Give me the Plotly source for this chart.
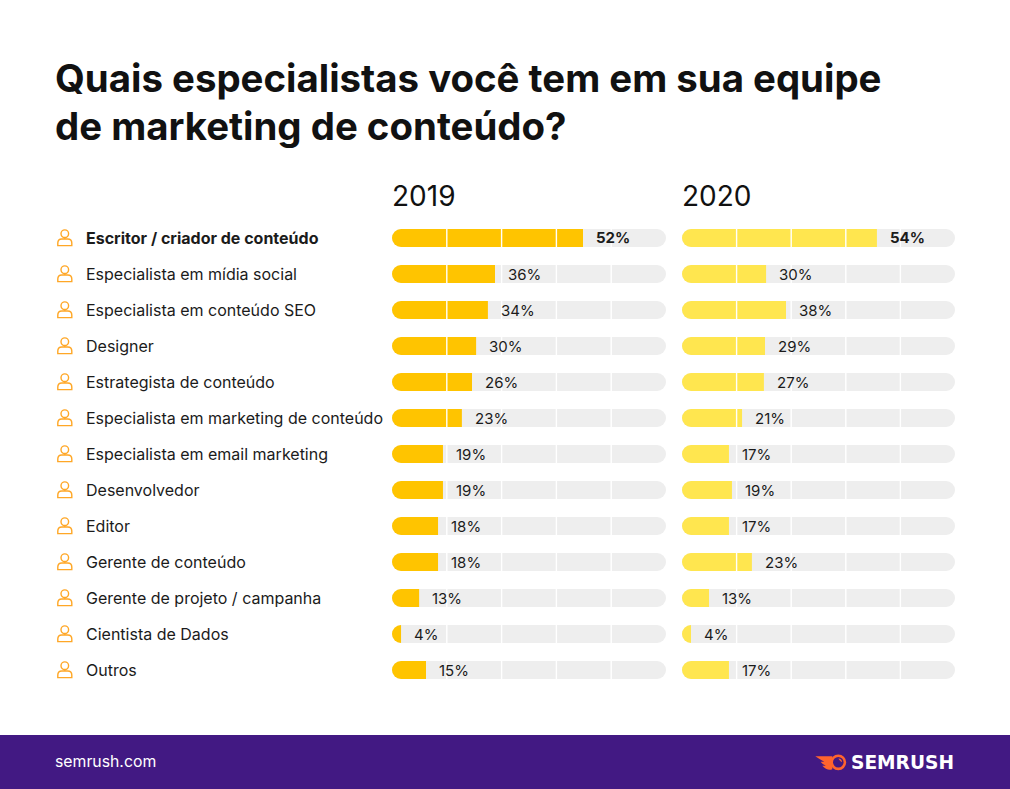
import plotly.graph_objects as go
from plotly.subplots import make_subplots

categories = ['Escritor / criador de conteúdo', 'Especialista em mídia social',
              'Especialista em conteúdo SEO', 'Designer', 'Estrategista de conteúdo',
              'Especialista em marketing de conteúdo', 'Especialista em email marketing',
              'Desenvolvedor', 'Editor', 'Gerente de conteúdo',
              'Gerente de projeto / campanha', 'Cientista de Dados', 'Outros']
# printed labels
labels_2019 = [52, 36, 34, 30, 26, 23, 19, 19, 18, 18, 13, 4, 15]
labels_2020 = [54, 30, 38, 29, 27, 21, 17, 19, 17, 23, 13, 4, 17]
# drawn bar length, share of the grey track (the source bars do not follow the labels)
bars_2019 = [69.7, 37.6, 35.0, 30.7, 29.2, 25.5, 18.6, 18.6, 16.8, 16.8, 9.9, 3.3, 12.4]
bars_2020 = [71.4, 30.8, 38.1, 30.4, 30.0, 22.0, 17.2, 18.3, 17.2, 25.6, 9.9, 3.3, 17.2]
grid_values = [20, 40, 60, 80]
track_max = 100

W, H = 1010, 789
FONT = 'Inter'
INK = '#1b1b1b'
ORANGE = '#FFA726'
TRACK = '#EEEEEE'
EXTRA = 7  # the round right end of a value bar hides under a flat grey piece

fig = make_subplots(rows=1, cols=2, shared_yaxes=True)
series = [(bars_2019, labels_2019, '#FFC400', 1, 'x'), (bars_2020, labels_2020, '#FFE64F', 2, 'x2')]
n = len(categories)

for bars, labels, color, col, xref in series:
    # a bar with a base gets all four corners rounded
    fig.add_trace(go.Bar(y=categories, x=[track_max] * n, base=[0] * n, orientation='h',
                         width=0.5, marker_color=TRACK, marker_line_width=0,
                         hoverinfo='skip', showlegend=False), row=1, col=col)
    fig.add_trace(go.Bar(y=categories, x=[b + EXTRA for b in bars], base=[0] * n,
                         orientation='h', width=0.5, marker_color=color, marker_line_width=0,
                         hoverinfo='skip', showlegend=False), row=1, col=col)
    fig.add_trace(go.Bar(y=categories, x=[EXTRA] * n, base=bars, orientation='h', width=0.5,
                         marker=dict(color=TRACK, line_width=0, cornerradius=0),
                         hoverinfo='skip', showlegend=False), row=1, col=col)
    for i, cat in enumerate(categories):
        fig.add_annotation(x=bars[i], y=cat, xref=xref, yref='y', text=f'{labels[i]}%',
                           xanchor='left', yanchor='middle', xshift=11, showarrow=False,
                           font=dict(family=FONT, size=15, color=INK,
                                     weight=700 if i == 0 else 400))
    for g in grid_values:
        fig.add_shape(type='line', x0=g, x1=g, y0=0, y1=1, xref=xref, yref='y domain',
                      line=dict(color='white', width=1.4), layer='above')


def px(x):
    return x / W


def py(y):
    return 1 - y / H


def circle(cx, cy, r):
    # shape paths take no arcs, so four cubic curves
    k = 0.5523 * r
    return (f'M {cx - r} {cy} C {cx - r} {cy + k} {cx - k} {cy + r} {cx} {cy + r} '
            f'C {cx + k} {cy + r} {cx + r} {cy + k} {cx + r} {cy} '
            f'C {cx + r} {cy - k} {cx + k} {cy - r} {cx} {cy - r} '
            f'C {cx - k} {cy - r} {cx - r} {cy - k} {cx - r} {cy} Z')


# person outline, pixels from the row centre, y up
icon_path = (circle(0, 4.3, 3.8) + ' M -7 -7.6 L 7 -7.6 L 7 -5.1 Q 7 -1 3 -1 L -3 -1 '
             'Q -7 -1 -7 -5.1 Z')

for i, cat in enumerate(categories):
    fig.add_shape(type='path', path=icon_path, xref='paper', yref='y',
                  xsizemode='pixel', ysizemode='pixel', xanchor=px(64.8), yanchor=cat,
                  line=dict(color=ORANGE, width=1.4), fillcolor='rgba(0,0,0,0)')
    fig.add_annotation(x=px(84), y=cat, xref='paper', yref='y', text=cat, xanchor='left',
                       yanchor='middle', showarrow=False,
                       font=dict(family=FONT, size=16, color=INK,
                                 weight=700 if i == 0 else 400))

# footer band
fig.add_shape(type='rect', xref='paper', yref='paper', x0=0, x1=1, y0=0, y1=py(735),
              fillcolor='#421983', line_width=0, layer='below')
fig.add_annotation(x=px(53), y=py(761), xref='paper', yref='paper', text='semrush.com',
                   xanchor='left', yanchor='middle', showarrow=False,
                   font=dict(family=FONT, size=15.8, color='white'))
fig.add_annotation(x=px(849), y=py(762), xref='paper', yref='paper', text='SEMRUSH',
                   xanchor='left', yanchor='middle', showarrow=False,
                   font=dict(family='DejaVu Sans', size=18.6, color='white', weight=700))
# logo fireball, pixels from the ring centre, y up
flame = ('M -23 6 L -6 6 L -6 -7 Q -11 -9 -16 -3.5 L -12.5 -3.5 '
         'Q -16 -2 -17.5 0.5 L -14 0.5 Q -18 2.5 -23 6 Z')
anchor = dict(xref='paper', yref='paper', xsizemode='pixel', ysizemode='pixel',
              xanchor=px(838.3), yanchor=py(762.3))
fig.add_shape(type='path', path=flame, fillcolor='#FF642D', line_width=0, **anchor)
fig.add_shape(type='path', path=circle(0, 0, 6.6), fillcolor='#421983',
              line=dict(color='#FF642D', width=2.6), **anchor)
fig.add_shape(type='path', path='M 0 3.8 Q 3.6 3.6 3.8 0 Q 1.6 1 0 3.8 Z',
              fillcolor='#FF642D', line_width=0, **anchor)

# title and year headers
for y_mid, line in ((78, 'Quais especialistas você tem em sua equipe'),
                    (126, 'de marketing de conteúdo?')):
    fig.add_annotation(x=px(53), y=py(y_mid), xref='paper', yref='paper', text=line,
                       xanchor='left', yanchor='middle', showarrow=False,
                       font=dict(family=FONT, size=38.4, color='#111111', weight=700))
for x_left, year in ((390, '2019'), (680, '2020')):
    fig.add_annotation(x=px(x_left), y=py(196), xref='paper', yref='paper', text=year,
                       xanchor='left', yanchor='middle', showarrow=False,
                       font=dict(family=FONT, size=28, color='#111111'))

fig.update_layout(width=W, height=H, margin=dict(l=0, r=0, t=0, b=0),
                  paper_bgcolor='white', plot_bgcolor='white', barmode='overlay',
                  barcornerradius=9, showlegend=False)
fig.update_xaxes(range=[0, track_max], visible=False, fixedrange=True)
fig.update_xaxes(domain=[px(392), px(666)], row=1, col=1)
fig.update_xaxes(domain=[px(682), px(955)], row=1, col=2)
fig.update_yaxes(type='category', categoryorder='array', categoryarray=categories,
                 range=[12.5, -0.5], domain=[py(688), py(220)], visible=False, fixedrange=True)

fig.write_html('out.html', config=dict(displayModeBar=False),
               post_script="document.body.style.margin='0';document.body.style.overflow='hidden';")
